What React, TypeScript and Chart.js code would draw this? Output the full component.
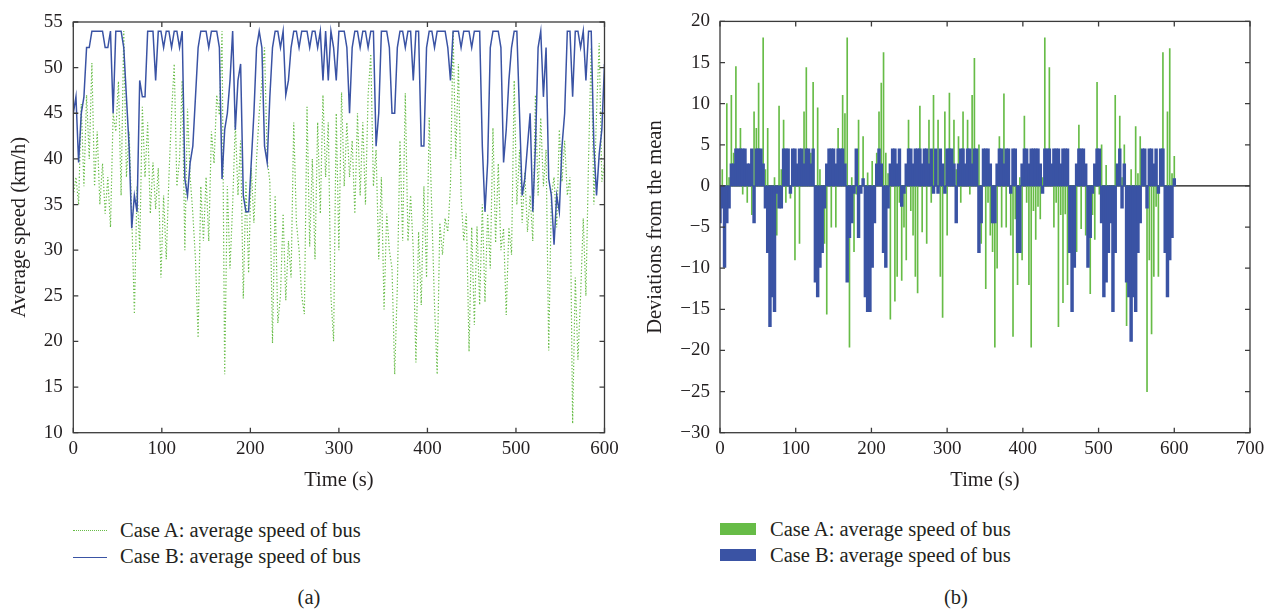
import React, { useEffect, useRef } from 'react';
import { Chart, registerables } from 'chart.js';

Chart.register(...registerables);

// seconds between samples (0, 3, 6, ... 600)
const TIME_STEP = 3;

// Case A: average speed of bus (km/h), one value every 3 s
const CASE_A_SPEED = [
  36, 38, 35, 46, 37, 47, 40, 50.5, 37, 43,
  35, 39.5, 34, 38, 32.5, 45, 43, 48.5, 36, 54,
  38, 43, 34, 23, 37, 30, 45.7, 38, 44, 34,
  39.6, 34.5, 39, 27, 36, 29, 38, 45, 50.4, 37,
  40, 48.6, 30, 45.5, 38, 34, 29, 20.4, 37, 31,
  38, 31, 43, 39.5, 47, 44.8, 54, 16.4, 37, 28,
  35, 44, 36, 42, 24.7, 37.6, 27.5, 39, 33, 40,
  45, 48.5, 52.2, 40, 37.5, 19.8, 36, 22, 25, 34,
  24.5, 31, 27, 44, 33, 30, 25, 23, 45.7, 30.4,
  40, 29, 44, 34, 47, 38, 44, 25, 20, 45,
  30, 47.3, 37, 44, 38, 42, 34, 45, 36, 44,
  35, 47, 51.5, 37, 41, 29, 38, 23.5, 34, 30,
  28, 16.4, 26, 42, 31, 47.2, 31, 36, 30, 17.7,
  32, 24, 37, 27, 44.5, 34, 24, 16.4, 33, 29.5,
  33.5, 32, 37, 54, 40, 50.4, 36, 31, 34, 18.9,
  32.5, 21.8, 32.6, 24, 35, 24.3, 34, 28, 43.4, 30.8,
  39.5, 30, 32.4, 22.9, 32.5, 29.5, 48.6, 35, 41, 33,
  38.5, 32, 36, 31, 47, 36, 44.5, 37, 41, 19,
  36, 38, 32.5, 43.2, 37.5, 42, 36, 38, 11, 27,
  18, 25, 33.5, 25, 40, 52.2, 35, 45, 52.7, 37.5,
  39.6,
];

// Case B: average speed of bus (km/h), one value every 3 s
const CASE_B_SPEED = [
  45, 46.8, 39.6, 45, 46.8, 52.2, 52.2, 54, 54, 54,
  54, 54, 52.2, 52.2, 54, 45, 54, 54, 54, 52.2,
  46.8, 41.4, 32.4, 36, 34.2, 48.6, 46.8, 46.8, 54, 54,
  54, 48.6, 54, 54, 52.2, 54, 54, 52.2, 54, 54,
  52.2, 54, 37.8, 36, 39.6, 41.4, 46.8, 52.2, 54, 54,
  54, 52.2, 54, 54, 54, 52.2, 37.8, 43.2, 45, 48.6,
  54, 43.2, 48.6, 50.4, 36, 34.2, 34.2, 39.6, 45, 52.2,
  54, 52.2, 41.4, 39.6, 46.8, 52.2, 54, 54, 52.2, 54,
  47, 48.6, 52.2, 54, 54, 52.2, 54, 54, 54, 52.2,
  54, 54, 52.2, 54, 48.6, 54, 48.6, 54, 52.2, 48.6,
  54, 54, 54, 52.2, 45, 52.2, 54, 54, 52.2, 54,
  54, 52.2, 54, 54, 41.4, 45, 54, 54, 54, 52.2,
  45, 45, 52.2, 54, 54, 52.2, 54, 54, 48.6, 54,
  54, 41.4, 41.4, 52.2, 54, 54, 52.2, 54, 54, 54,
  54, 52.2, 48.6, 54, 54, 54, 52.2, 54, 54, 54,
  52.2, 54, 54, 54, 41.4, 34.2, 39.6, 52.2, 54, 54,
  54, 52.2, 39.6, 43.2, 48.6, 52.2, 54, 54, 45, 36,
  37.8, 41.4, 45, 34.2, 41.4, 52.2, 54, 46.8, 52.2, 37.8,
  36, 30.6, 36, 34.2, 41.4, 45, 54, 54, 46.8, 54,
  54, 52.2, 54, 48.6, 54, 54, 41.4, 36, 40.5, 43.2,
  50.4,
];

// means (b) zero level
const MEAN_A = 36;
const MEAN_B = 49.5;

const LEGEND_A = 'Case A: average speed of bus';
const LEGEND_B = 'Case B: average speed of bus';

const FONT = '"Liberation Serif", "Times New Roman", serif';
const TEXT = '#231f20';
const AXIS = '#3b3b3b';
const GREEN = '#67bc47';
const BLUE = '#3a53a4';

const boxTicks = {
  id: 'boxTicks',
  beforeDatasetsDraw(chart: any, _a: any, opts: any) {
    if (!opts || !opts.zeroLine) return;
    const { ctx, chartArea, scales } = chart;
    const y0 = scales.y.getPixelForValue(0);
    ctx.save();
    ctx.strokeStyle = '#111';
    ctx.lineWidth = 1.2;
    ctx.beginPath();
    ctx.moveTo(chartArea.left, y0);
    ctx.lineTo(chartArea.right, y0);
    ctx.stroke();
    ctx.restore();
  },
  afterDatasetsDraw(chart: any) {
    const { ctx, chartArea, scales } = chart;
    const { left, right, top, bottom } = chartArea;
    const L = 5;
    ctx.save();
    ctx.strokeStyle = AXIS;
    ctx.lineWidth = 1.3;
    ctx.beginPath();
    scales.x.ticks.forEach((t: any) => {
      const px = scales.x.getPixelForValue(t.value);
      ctx.moveTo(px, bottom);
      ctx.lineTo(px, bottom - L);
      ctx.moveTo(px, top);
      ctx.lineTo(px, top + L);
    });
    scales.y.ticks.forEach((t: any) => {
      const py = scales.y.getPixelForValue(t.value);
      ctx.moveTo(left, py);
      ctx.lineTo(left + L, py);
      ctx.moveTo(right, py);
      ctx.lineTo(right - L, py);
    });
    ctx.stroke();
    ctx.strokeRect(left, top, right - left, bottom - top);
    ctx.restore();
  },
};

const tickFont = { family: FONT, size: 19 };
const titleFont = { family: FONT, size: 20.5 };
const fmt = (v: any) => (Number(v) < 0 ? '\u2212' + Math.abs(Number(v)) : String(v));

function speedPoints(arr: number[]) {
  return arr.map((v, i) => ({ x: i * TIME_STEP, y: v }));
}
function devPoints(arr: number[], mean: number) {
  return arr.map((v, i) => ({ x: i * TIME_STEP, y: v - mean }));
}

function axisX(min: number, max: number, height: number, titlePad: number) {
  return {
    type: 'linear',
    min,
    max,
    offset: false,
    grid: { display: false, drawTicks: false },
    border: { display: false },
    ticks: { stepSize: 100, font: tickFont, color: TEXT, padding: 5, maxRotation: 0, callback: fmt },
    title: { display: true, text: 'Time (s)', font: titleFont, color: TEXT, padding: { top: 0, bottom: titlePad } },
    afterFit: (s: any) => {
      s.height = height;
    },
  };
}
function axisY(min: number, max: number, text: string, width: number, tickPad: number, titlePad: number) {
  return {
    min,
    max,
    grid: { display: false, drawTicks: false },
    border: { display: false },
    ticks: { stepSize: 5, font: tickFont, color: TEXT, padding: tickPad, callback: fmt },
    title: { display: true, text, font: titleFont, color: TEXT, padding: { top: titlePad, bottom: 0 } },
    afterFit: (s: any) => {
      s.width = width;
    },
  };
}

export default function App() {
  const refA = useRef<HTMLCanvasElement>(null);
  const refB = useRef<HTMLCanvasElement>(null);

  useEffect(() => {
    const chartA = new Chart(refA.current as HTMLCanvasElement, {
      type: 'line',
      data: {
        datasets: [
          {
            label: LEGEND_B,
            data: speedPoints(CASE_B_SPEED),
            borderColor: BLUE,
            borderWidth: 1.5,
            pointRadius: 0,
            tension: 0,
          },
          {
            label: LEGEND_A,
            data: speedPoints(CASE_A_SPEED),
            borderColor: GREEN,
            borderWidth: 1.2,
            borderDash: [1.3, 2],
            pointRadius: 0,
            tension: 0,
          },
        ],
      } as any,
      options: {
        animation: false,
        responsive: false,
        events: [],
        layout: { padding: { left: 0, top: 15.7, right: 35.5, bottom: 0 } },
        plugins: { legend: { display: false }, tooltip: { enabled: false } },
        scales: {
          x: axisX(0, 600, 67.3, 7),
          y: axisY(10, 55, 'Average speed (km/h)', 73.3, 10.6, 7),
        } as any,
      },
      plugins: [boxTicks as any],
    });

    const chartB = new Chart(refB.current as HTMLCanvasElement, {
      type: 'bar',
      data: {
        datasets: [
          {
            label: LEGEND_B,
            data: devPoints(CASE_B_SPEED, MEAN_B),
            backgroundColor: BLUE,
            borderWidth: 0,
            barThickness: 2.8,
            grouped: false,
          },
          {
            label: LEGEND_A,
            data: devPoints(CASE_A_SPEED, MEAN_A),
            backgroundColor: GREEN,
            borderWidth: 0,
            barThickness: 1,
            grouped: false,
          },
        ],
      } as any,
      options: {
        animation: false,
        responsive: false,
        events: [],
        layout: { padding: { left: 0, top: 15.7, right: 27, bottom: 0 } },
        plugins: { legend: { display: false }, tooltip: { enabled: false }, boxTicks: { zeroLine: true } } as any,
        scales: {
          x: axisX(0, 700, 67.3, 7),
          y: axisY(-30, 20, 'Deviations from the mean', 80, 10, 3),
        } as any,
      },
      plugins: [boxTicks as any],
    });

    return () => {
      chartA.destroy();
      chartB.destroy();
    };
  }, []);

  const text: React.CSSProperties = {
    position: 'absolute',
    fontFamily: FONT,
    fontSize: 20.5,
    lineHeight: '24px',
    color: TEXT,
    whiteSpace: 'nowrap',
  };

  return (
    <div style={{ position: 'absolute', left: 0, top: 0, width: 1277, height: 612, background: '#fff', overflow: 'hidden' }}>
      <canvas ref={refA} width={640} height={500} style={{ position: 'absolute', left: 0, top: 0 }} />
      <canvas ref={refB} width={637} height={500} style={{ position: 'absolute', left: 640, top: 0 }} />

      {/* legend (a) */}
      <div style={{ position: 'absolute', left: 73, top: 530, width: 34, borderTop: `1.5px dotted ${GREEN}` }} />
      <div style={{ ...text, left: 120, top: 518 }}>{LEGEND_A}</div>
      <div style={{ position: 'absolute', left: 73, top: 556.5, width: 34, borderTop: `1.5px solid ${BLUE}` }} />
      <div style={{ ...text, left: 120, top: 544 }}>{LEGEND_B}</div>
      <div style={{ ...text, left: 259, width: 100, textAlign: 'center', top: 585 }}>(a)</div>

      {/* legend (b) */}
      <div style={{ position: 'absolute', left: 720, top: 523, width: 36, height: 12, background: GREEN }} />
      <div style={{ ...text, left: 770, top: 517 }}>{LEGEND_A}</div>
      <div style={{ position: 'absolute', left: 720, top: 549, width: 36, height: 12, background: BLUE }} />
      <div style={{ ...text, left: 770, top: 543 }}>{LEGEND_B}</div>
      <div style={{ ...text, left: 906, width: 100, textAlign: 'center', top: 585 }}>(b)</div>
    </div>
  );
}
